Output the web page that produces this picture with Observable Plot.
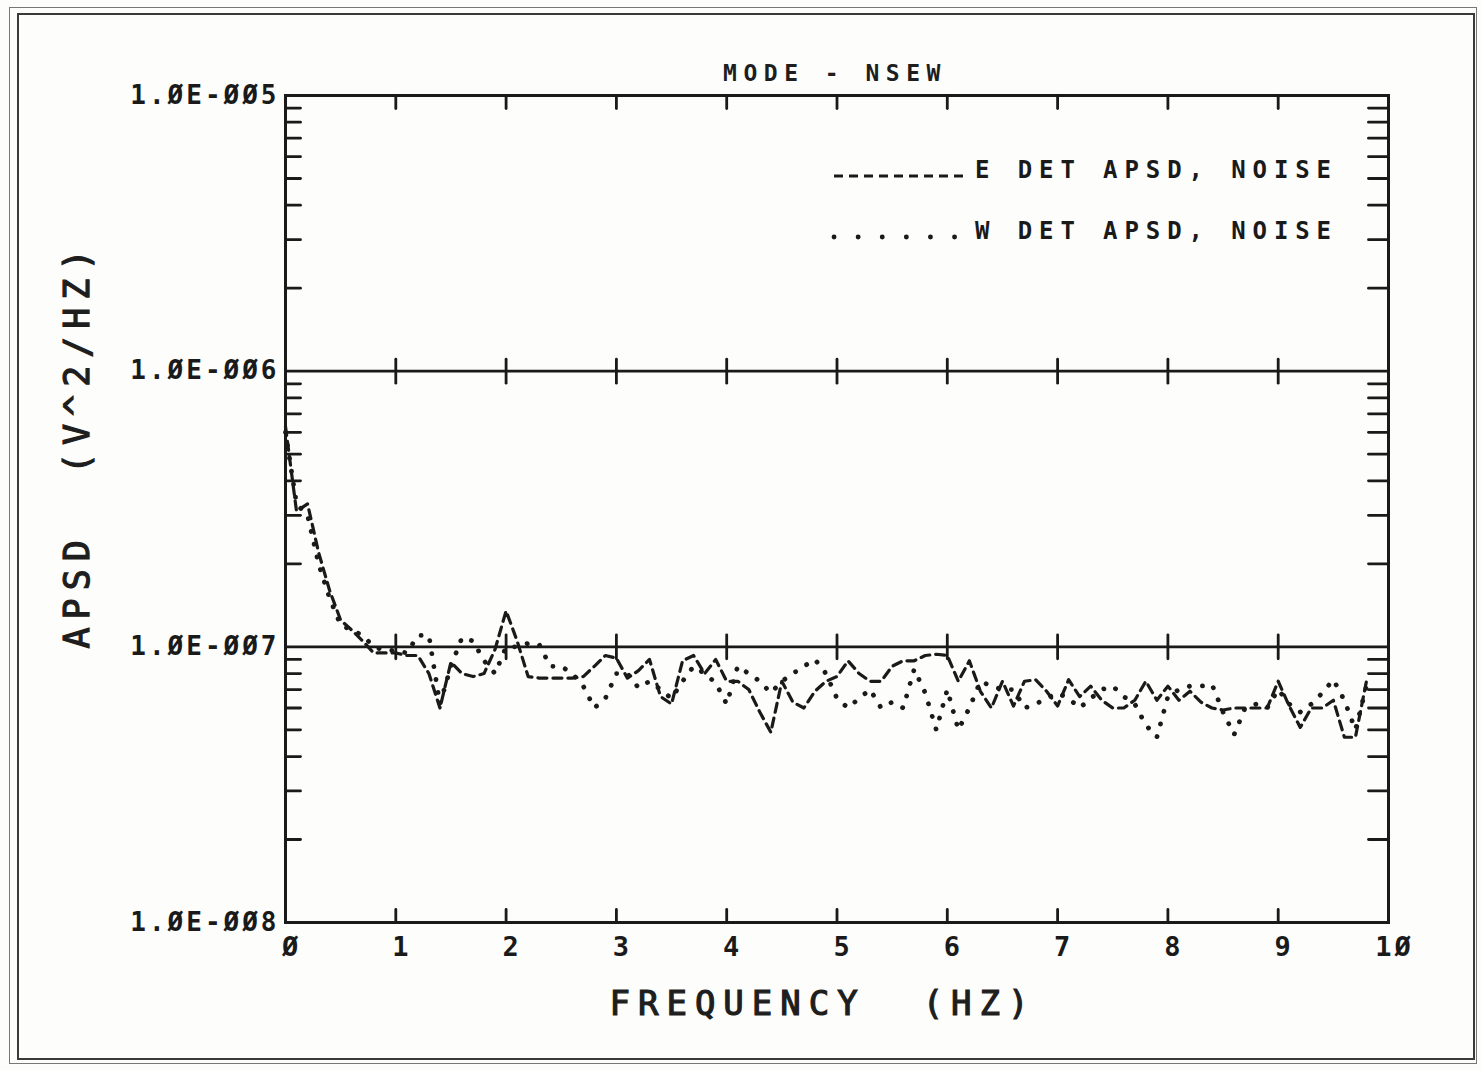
<!DOCTYPE html>
<html><head><meta charset="utf-8">
<script src="https://cdn.jsdelivr.net/npm/d3@7"></script>
<script src="https://cdn.jsdelivr.net/npm/@observablehq/plot@0.6"></script>
<style>
body{margin:0;background:#fff;}
#wrap{position:relative;width:1482px;height:1070px;overflow:hidden;background:#fdfdfb;}
.box{position:absolute;border:2px solid #3a3a3a;box-sizing:border-box;}
.t{position:absolute;font-family:"DejaVu Sans Mono",monospace;font-weight:bold;color:#1e1e1e;white-space:pre;line-height:1;}
#plot{position:absolute;left:0;top:0;}
#plot svg text{letter-spacing:3px;}
#legend{position:absolute;left:0;top:0;}
</style></head><body>
<div id="wrap">
  <div class="box" style="left:9px;top:7px;width:1468px;height:1057px;border-color:#777;border-width:1px"></div>
  <div class="box" style="left:17px;top:13px;width:1458px;height:1047px"></div>
  <div id="plot"></div>
  <div id="title" class="t" style="font-size:23px;letter-spacing:6.5px;"></div>
  <div id="xlabel" class="t" style="font-size:34px;letter-spacing:8px;font-weight:normal;-webkit-text-stroke:1.2px #1e1e1e;"></div>
  <div id="ylabel" class="t" style="font-size:35px;letter-spacing:8px;font-weight:normal;-webkit-text-stroke:1.2px #1e1e1e;"></div>
  <svg id="legend" width="1482" height="1070"></svg>
</div>
<script>
// ---- data (APSD in units of 1e-7 V^2/Hz) ----
const freq = [0,0.1,0.2,0.3,0.4,0.5,0.6,0.7,0.8,0.9,1.0,1.1,1.2,1.3,1.4,1.5,1.6,1.7,1.8,1.9,
  2.0,2.1,2.2,2.3,2.4,2.5,2.6,2.7,2.8,2.9,3.0,3.1,3.2,3.3,3.4,3.5,3.6,3.7,3.8,3.9,
  4.0,4.1,4.2,4.3,4.4,4.5,4.6,4.7,4.8,4.9,5.0,5.1,5.2,5.3,5.4,5.5,5.6,5.7,5.8,5.9,
  6.0,6.1,6.2,6.3,6.4,6.5,6.6,6.7,6.8,6.9,7.0,7.1,7.2,7.3,7.4,7.5,7.6,7.7,7.8,7.9,
  8.0,8.1,8.2,8.3,8.4,8.5,8.6,8.7,8.8,8.9,9.0,9.1,9.2,9.3,9.4,9.5,9.6,9.7,9.8];
const eDet = [6.3,3.1,3.3,2.2,1.6,1.25,1.15,1.05,0.95,0.95,0.95,0.93,0.93,0.80,0.60,0.88,0.80,0.78,0.80,0.98,
  1.35,1.05,0.78,0.77,0.77,0.77,0.77,0.78,0.85,0.93,0.91,0.77,0.82,0.90,0.66,0.62,0.89,0.93,0.80,0.90,
  0.75,0.75,0.70,0.58,0.49,0.75,0.63,0.60,0.69,0.75,0.78,0.89,0.80,0.75,0.75,0.85,0.89,0.89,0.93,0.94,
  0.93,0.75,0.89,0.69,0.60,0.75,0.61,0.75,0.76,0.69,0.61,0.76,0.66,0.72,0.64,0.60,0.60,0.64,0.75,0.64,
  0.72,0.64,0.69,0.63,0.60,0.59,0.60,0.60,0.60,0.60,0.75,0.61,0.51,0.60,0.60,0.64,0.47,0.47,0.75];
const wDet = [6.0,3.3,3.0,2.0,1.5,1.2,1.15,1.1,1.0,0.97,0.97,0.95,1.1,1.1,0.62,0.85,1.08,1.05,0.89,0.80,
  1.0,1.0,1.03,1.02,0.85,0.85,0.80,0.72,0.60,0.65,0.80,0.80,0.71,0.75,0.70,0.65,0.75,0.85,0.80,0.74,
  0.62,0.85,0.80,0.75,0.68,0.75,0.80,0.85,0.90,0.80,0.65,0.60,0.65,0.70,0.60,0.63,0.60,0.83,0.68,0.50,
  0.70,0.50,0.60,0.75,0.72,0.70,0.70,0.60,0.62,0.65,0.68,0.65,0.60,0.65,0.70,0.72,0.66,0.62,0.52,0.47,
  0.66,0.70,0.72,0.72,0.73,0.58,0.48,0.60,0.62,0.60,0.70,0.62,0.58,0.62,0.68,0.76,0.64,0.50,0.72];
const unit = 1e-7;

const xTicks = [0,1,2,3,4,5,6,7,8,9,10];
const xTickLabels = ["Ø","1","2","3","4","5","6","7","8","9","1Ø"];
const yTicks = [1e-8,1e-7,1e-6,1e-5];
const yTickLabels = ["1.ØE-ØØ8","1.ØE-ØØ7","1.ØE-ØØ6","1.ØE-ØØ5"];
const yGrid = [1e-7,1e-6];
const yMinor = [2e-8,3e-8,4e-8,5e-8,6e-8,7e-8,8e-8,9e-8,2e-7,3e-7,4e-7,5e-7,6e-7,7e-7,8e-7,9e-7,
  2e-6,3e-6,4e-6,5e-6,6e-6,7e-6,8e-6,9e-6];
const titleText = "MODE - NSEW";
const xLabelText = "FREQUENCY  (HZ)";
const yLabelText = "APSD  (V^2/HZ)";
const seriesNames = ["E DET APSD,  NOISE","W DET APSD,  NOISE"];

// ---- build ----
const ink = "#1a1a1a";
const eRows = freq.map((f,i)=>({f, v: eDet[i]*unit}));
const wRows = freq.map((f,i)=>({f, v: wDet[i]*unit}));
const xInner = xTicks.slice(1,-1);
const gridCross = yGrid.flatMap(y => xInner.map(x => ({x, y})));
const spike = {draw(ctx, l){ ctx.moveTo(0,0); ctx.lineTo(0,-l); }};
const font = "DejaVu Sans Mono";

const chart = Plot.plot({
  width:1482, height:1070,
  marginLeft:285, marginRight:94, marginTop:95, marginBottom:148,
  x:{domain:[0,10]},
  y:{type:"log", domain:[1e-8,1e-5]},
  style:{background:"transparent", color:ink, fontFamily:font, overflow:"visible"},
  marks:[
    Plot.ruleY(yGrid, {stroke:ink, strokeWidth:2.6}),
    Plot.frame({stroke:ink, strokeWidth:3}),
    // x ticks: top (inward), bottom (inward), crossing the grid lines
    Plot.vector(xInner, {x:d=>d, y:()=>1e-5, length:13, rotate:180, anchor:"start", shape:spike, stroke:ink, strokeWidth:2.8}),
    Plot.vector(xInner, {x:d=>d, y:()=>1e-8, length:13, rotate:0, anchor:"start", shape:spike, stroke:ink, strokeWidth:2.8}),
    Plot.vector(gridCross, {x:"x", y:"y", length:24, rotate:0, anchor:"middle", shape:spike, stroke:ink, strokeWidth:2.8}),
    // y minor ticks left and right
    Plot.vector(yMinor, {x:()=>0, y:d=>d, length:15, rotate:90, anchor:"start", shape:spike, stroke:ink, strokeWidth:2.8}),
    Plot.vector(yMinor, {x:()=>10, y:d=>d, length:20, rotate:-90, anchor:"start", shape:spike, stroke:ink, strokeWidth:2.8}),
    // series
    Plot.line(eRows, {x:"f", y:"v", stroke:ink, strokeWidth:3.2, strokeDasharray:"9,6"}),
    Plot.line(wRows, {x:"f", y:"v", stroke:ink, strokeWidth:4.8, strokeLinecap:"round", strokeDasharray:"0.1,13"}),
    // axes labels
    Plot.axisX(xTicks, {anchor:"bottom", tickSize:0, tickPadding:14, dx:6,
      tickFormat:d=>xTickLabels[xTicks.indexOf(d)], fontSize:27, fontWeight:"bold", fontFamily:font, fill:ink, label:null}),
    Plot.axisY(yTicks, {anchor:"left", tickSize:0, tickPadding:6,
      tickFormat:d=>yTickLabels[yTicks.indexOf(d)], fontSize:26, fontWeight:"bold", fontFamily:font, fill:ink, label:null})
  ]
});
document.getElementById("plot").appendChild(chart);

// titles
const title = document.getElementById("title");
title.textContent = titleText;
title.style.left = "835px"; title.style.top = "62px"; title.style.transform = "translateX(-50%)";
const xl = document.getElementById("xlabel");
xl.textContent = xLabelText;
xl.style.left = "823px"; xl.style.top = "986px"; xl.style.transform = "translateX(-50%)";
const yl = document.getElementById("ylabel");
yl.textContent = yLabelText;
yl.style.left = "77px"; yl.style.top = "445px"; yl.style.transform = "translate(-50%,-50%) rotate(-90deg)";

// legend (inside plot, top right)
const lg = d3.select("#legend");
const rows = [
  {name: seriesNames[0], y: 176, ty: 170, dash:"9,6", sw:3.2, cap:"butt"},
  {name: seriesNames[1], y: 237, ty: 231, dash:"0.1,24", sw:4.8, cap:"round"}
];
rows.forEach(r => {
  lg.append("line").attr("x1", 834).attr("x2", 968).attr("y1", r.y).attr("y2", r.y)
    .attr("stroke", ink).attr("stroke-width", r.sw).attr("stroke-dasharray", r.dash).attr("stroke-linecap", r.cap);
  lg.append("text").attr("x", 975).attr("y", r.ty).attr("dominant-baseline","central")
    .attr("font-family", font).attr("font-weight","bold").attr("font-size", 24)
    .attr("letter-spacing", "6.9px").attr("fill", ink).text(r.name);
});
</script>
</body></html>
